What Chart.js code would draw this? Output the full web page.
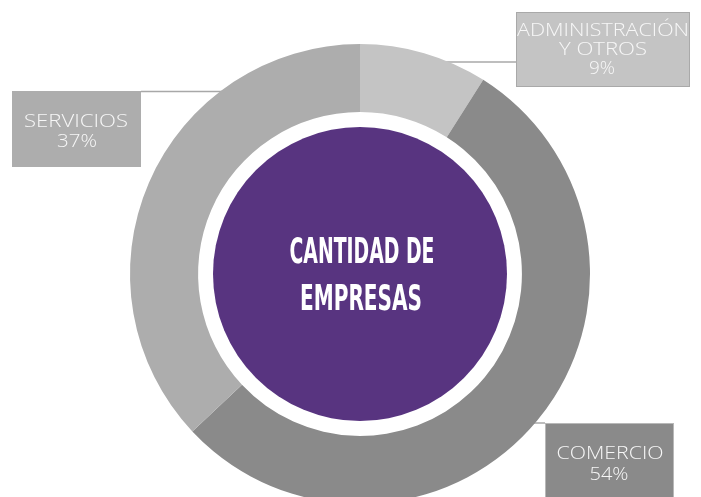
<!DOCTYPE html>
<html>
<head>
<meta charset="utf-8">
<script src="https://cdn.jsdelivr.net/npm/chart.js@4"></script>
<style>
html,body{margin:0;padding:0;background:#fff;overflow:hidden;width:701px;height:497px;}
#wrap{position:absolute;left:0;top:0;width:701px;height:520px;}
</style>
</head>
<body>
<div id="wrap"><canvas id="c" width="701" height="520"></canvas></div>
<script>
const categories = ['ADMINISTRACIÓN|Y OTROS', 'COMERCIO', 'SERVICIOS'];
const values = [9, 54, 37];
const colors = ['#c4c4c4', '#8a8a8a', '#adadad'];
const centerTitle = ['CANTIDAD DE', 'EMPRESAS'];

// layout of label boxes (style / position only)
const boxes = [
  {x:516, y:12, w:174, h:75, fill:'#c4c4c4', border:'#a9a9a9', line:{x1:430, x2:516, y:62},
   lines:[{cx:603, b:36, w:172}, {cx:603, b:55, w:88}, {cx:602, b:74, w:26}]},
  {x:545, y:423, w:129, h:90, fill:'#8a8a8a', border:'#b8b8b8', line:{x1:520, x2:545, y:423},
   lines:[{cx:610, b:459, w:107}, {cx:609, b:480, w:39}]},
  {x:12, y:91, w:129, h:76, fill:'#adadad', border:null, line:{x1:141, x2:250, y:91.5},
   lines:[{cx:76, b:127, w:104}, {cx:77, b:147, w:40}]}
];

function fitText(ctx, txt, cx, base, w) {
  const m = ctx.measureText(txt).width;
  const sx = w / m;
  ctx.save();
  ctx.translate(cx, base);
  ctx.scale(sx, 1);
  ctx.textAlign = 'center';
  ctx.textBaseline = 'alphabetic';
  ctx.fillText(txt, 0, 0);
  ctx.restore();
}

const decor = {
  id: 'decor',
  beforeDatasetsDraw(chart) {
    const ctx = chart.ctx;
    ctx.save();
    ctx.strokeStyle = '#a8a8a8';
    ctx.lineWidth = 1.5;
    boxes.forEach(b => {
      ctx.beginPath();
      ctx.moveTo(b.line.x1, b.line.y);
      ctx.lineTo(b.line.x2, b.line.y);
      ctx.stroke();
    });
    ctx.restore();
  },
  afterDatasetsDraw(chart) {
    const ctx = chart.ctx;
    const arc = chart.getDatasetMeta(0).data[0];
    const cx = arc.x, cy = arc.y;
    ctx.save();
    // purple center
    ctx.fillStyle = '#583480';
    ctx.beginPath();
    ctx.arc(cx, cy, 147, 0, Math.PI * 2);
    ctx.fill();
    ctx.fillStyle = '#ffffff';
    ctx.font = 'bold 35px "Liberation Sans Narrow", "DejaVu Sans Condensed", sans-serif';
    fitText(ctx, centerTitle[0], 362, 263, 145);
    fitText(ctx, centerTitle[1], 361, 310, 122);

    // label boxes
    const total = values.reduce((a, b) => a + b, 0);
    boxes.forEach((b, i) => {
      ctx.fillStyle = b.fill;
      ctx.fillRect(b.x, b.y, b.w, b.h);
      if (b.border) {
        ctx.strokeStyle = b.border;
        ctx.lineWidth = 1;
        ctx.strokeRect(b.x + 0.5, b.y + 0.5, b.w - 1, b.h - 1);
      }
      const txts = categories[i].split('|').concat([Math.round(values[i] / total * 100) + '%']);
      ctx.fillStyle = '#f7f7f7';
      ctx.font = '300 19px "Open Sans", "Noto Sans", sans-serif';
      txts.forEach((t, j) => {
        const L = b.lines[j];
        fitText(ctx, t, L.cx, L.b, L.w);
      });
    });
    ctx.restore();
  }
};

new Chart(document.getElementById('c'), {
  type: 'doughnut',
  data: {
    labels: categories.map(c => c.replace('|', ' ')),
    datasets: [{
      data: values,
      backgroundColor: colors,
      borderWidth: 0,
      hoverOffset: 0
    }]
  },
  options: {
    responsive: false,
    animation: false,
    cutout: '70.4%',
    rotation: 0,
    layout: { padding: { left: 130, right: 111, top: 44, bottom: 16 } },
    plugins: { legend: { display: false }, tooltip: { enabled: false } },
    events: []
  },
  plugins: [decor]
});
</script>
</body>
</html>
